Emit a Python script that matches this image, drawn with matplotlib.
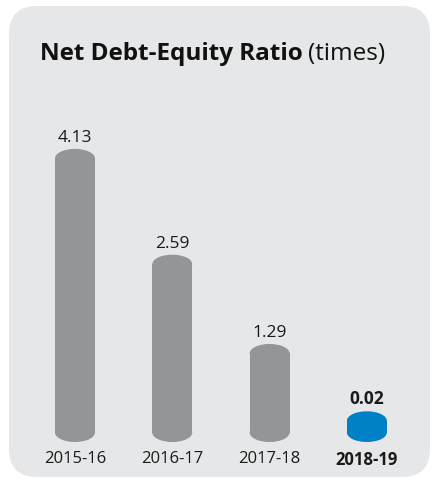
import matplotlib
matplotlib.use("Agg")
import matplotlib.pyplot as plt
from matplotlib.patches import Rectangle, Ellipse, FancyBboxPatch
from matplotlib.transforms import IdentityTransform

years = ["2015-16", "2016-17", "2017-18", "2018-19"]
ratios = [4.13, 2.59, 1.29, 0.02]
bar_colors = ["#939598", "#939598", "#939598", "#0080c6"]

BAR_W = 0.41      # bar width in category units
CAP = 0.137       # half height of the elliptical caps (data units)
MIN_SHOWN = 0.31  # keep tiny values visible as a disc

plt.rcParams["font.family"] = ["Open Sans", "DejaVu Sans"]

fig = plt.figure(figsize=(4.32, 4.79), dpi=100)
fig.patch.set_facecolor("white")

# rounded grey card behind everything
card = FancyBboxPatch((9, 2), 421, 471, boxstyle="round,pad=0,rounding_size=28",
                      transform=IdentityTransform(), facecolor="#e6e7e8",
                      edgecolor="none", zorder=-5)
fig.patches.append(card)

ax = fig.add_axes([0.0609, 0.0969, 0.901, 0.717])
ax.set_zorder(2)
ax.set_xlim(-0.5, 3.5)
ax.set_ylim(0, 5)
ax.patch.set_alpha(0)
for s in ax.spines.values():
    s.set_visible(False)
ax.set_yticks([])

for i, (v, c) in enumerate(zip(ratios, bar_colors)):
    top = max(v, MIN_SHOWN)
    x0 = i - BAR_W / 2
    # cylinder: body plus round bottom and top
    ax.add_patch(Rectangle((x0, 0), BAR_W, top - CAP, facecolor=c,
                           edgecolor="none", clip_on=False))
    ax.add_patch(Ellipse((i, 0), BAR_W, 2 * CAP, facecolor=c,
                         edgecolor="none", clip_on=False))
    ax.add_patch(Ellipse((i, top - CAP), BAR_W, 2 * CAP, facecolor=c,
                         edgecolor="none", clip_on=False))
    ax.annotate(f"{v:.2f}", (i, top), xytext=(0, 5), textcoords="offset points",
                ha="center", va="baseline", fontsize=12.5, color="#1a1a1a",
                fontweight="bold" if i == len(ratios) - 1 else "normal")

ax.set_xticks(range(len(years)))
ax.set_xticklabels(years, fontsize=12, color="#1a1a1a")
ax.get_xticklabels()[-1].set_fontweight("bold")
ax.tick_params(axis="x", length=0, pad=13.5)

t1 = fig.text(40 / 432, 1 - 60 / 479, "Net Debt-Equity Ratio", fontsize=17.5,
              fontweight="bold", color="#111111", va="baseline")
fig.canvas.draw()
bb = t1.get_window_extent()
fig.text(bb.x1 / 432 + 0.011, 1 - 60 / 479, "(times)", fontsize=17.5,
         color="#111111", va="baseline")

fig.savefig("out.png", dpi=100)
